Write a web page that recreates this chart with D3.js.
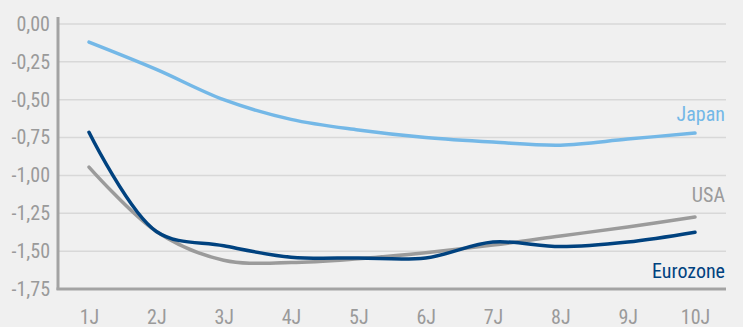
<!DOCTYPE html>
<html><head><meta charset="utf-8">
<script src="https://cdn.jsdelivr.net/npm/d3@7"></script>
<style>
html,body{margin:0;padding:0;background:#f0f0f0;}
svg{display:block;}
text{font-family:"Liberation Sans Narrow","Roboto Condensed","DejaVu Sans Condensed",sans-serif;}
</style></head>
<body>
<svg id="c" width="743" height="327"></svg>
<script>
const categories = ["1J","2J","3J","4J","5J","6J","7J","8J","9J","10J"];
const japan    = [-0.12,-0.30,-0.50,-0.63,-0.70,-0.75,-0.78,-0.80,-0.76,-0.72];
const usa      = [-0.945,-1.37,-1.56,-1.575,-1.55,-1.51,-1.46,-1.40,-1.34,-1.275];
const eurozone = [-0.715,-1.37,-1.465,-1.54,-1.545,-1.545,-1.44,-1.47,-1.44,-1.375];
const yTicks   = [0,-0.25,-0.5,-0.75,-1,-1.25,-1.5,-1.75];
const seriesNames  = ["Japan","USA","Eurozone"];
const seriesColors = ["#74b8e7","#9b9b9b","#00427f"];

(function(){
const svg = d3.select("#c");
const mLeft = 58, mRight = 726, mTop = 24, mBottom = 289;
const x = d3.scalePoint().domain(categories).range([89, 695]);
const y = d3.scaleLinear().domain([-1.75, 0]).range([mBottom, mTop]);
const fmt = v => d3.format(".2f")(v).replace(".", ",").replace("\u2212","-");

svg.append("g").selectAll("line").data(yTicks.filter(t => t !== -1.75)).join("line")
  .attr("x1", mLeft).attr("x2", mRight)
  .attr("y1", d => y(d)).attr("y2", d => y(d))
  .attr("stroke", "#d8d8d8").attr("stroke-width", 1.5);

const yAxis = svg.append("g").attr("transform", `translate(${mLeft},0)`)
  .call(d3.axisLeft(y).tickValues(yTicks).tickFormat(fmt).tickSize(0).tickPadding(8));
yAxis.select(".domain").remove();
yAxis.selectAll("text").attr("fill", "#9a9a9a").attr("font-size", 20);

const xAxis = svg.append("g").attr("transform", `translate(0,${mBottom})`)
  .call(d3.axisBottom(x).tickSize(0).tickPadding(21));
xAxis.select(".domain").remove();
xAxis.selectAll("text").attr("fill", "#9a9a9a").attr("font-size", 20);

svg.append("line").attr("x1", mLeft).attr("x2", mLeft).attr("y1", 17).attr("y2", mBottom + 1)
  .attr("stroke", "#a3a3a3").attr("stroke-width", 3);
svg.append("line").attr("x1", mLeft - 1.5).attr("x2", mRight).attr("y1", mBottom).attr("y2", mBottom)
  .attr("stroke", "#a3a3a3").attr("stroke-width", 3);

const line = d3.line().x((d, i) => x(categories[i])).y(d => y(d)).curve(d3.curveCatmullRom.alpha(0.5));
const data = [japan, usa, eurozone];
data.forEach((s, i) => {
  svg.append("path").datum(s).attr("d", line)
    .attr("fill", "none").attr("stroke", seriesColors[i]).attr("stroke-width", 3.5)
    .attr("stroke-linecap", "round").attr("stroke-linejoin", "round");
});

const labelY = [121, 202, 278];
seriesNames.forEach((n, i) => {
  svg.append("text").attr("x", 725).attr("y", labelY[i]).attr("text-anchor", "end")
    .attr("font-size", 20).attr("fill", seriesColors[i]).text(n);
});
})();
</script>
</body></html>
